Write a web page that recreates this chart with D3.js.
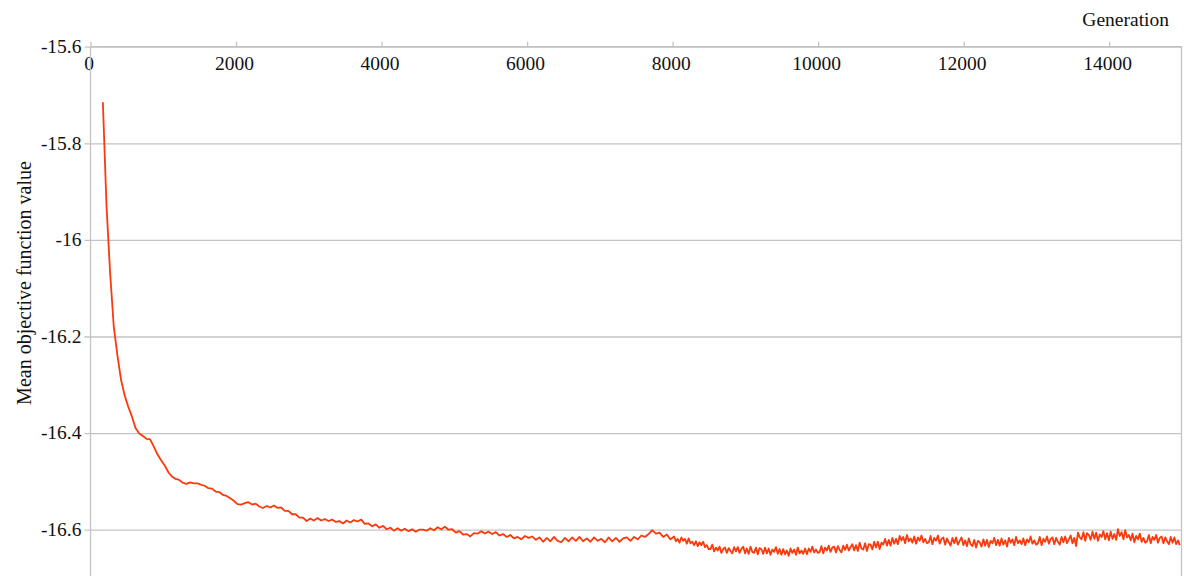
<!DOCTYPE html>
<html>
<head>
<meta charset="utf-8">
<script src="https://cdn.jsdelivr.net/npm/d3@7"></script>
<style>
  body { margin: 0; background: #fff; }
  text { font-family: "Liberation Serif", "Times New Roman", serif; fill: #111; }
</style>
</head>
<body>
<div id="chart"></div>
<script>
const width = 1184;
const height = 576;

// Early run: generations 170..7970, every 50 generations (one row = 500 generations)
const earlyStart = 170;
const earlyStep = 50;
const earlyValues = [
  -15.715, -15.930, -16.069, -16.180, -16.239, -16.290, -16.322, -16.346, -16.366, -16.390,
  -16.401, -16.406, -16.412, -16.413, -16.428, -16.444, -16.456, -16.467, -16.481, -16.490,
  -16.495, -16.497, -16.503, -16.505, -16.502, -16.504, -16.504, -16.507, -16.509, -16.514,
  -16.515, -16.521, -16.522, -16.528, -16.530, -16.535, -16.540, -16.547, -16.548, -16.545,
  -16.543, -16.548, -16.546, -16.552, -16.555, -16.551, -16.554, -16.550, -16.555, -16.554,
  -16.561, -16.561, -16.568, -16.568, -16.575, -16.575, -16.582, -16.577, -16.581, -16.576,
  -16.581, -16.578, -16.582, -16.579, -16.584, -16.582, -16.587, -16.581, -16.585, -16.580,
  -16.583, -16.579, -16.588, -16.587, -16.593, -16.589, -16.596, -16.592, -16.599, -16.596,
  -16.602, -16.597, -16.602, -16.598, -16.603, -16.599, -16.604, -16.600, -16.600, -16.602,
  -16.597, -16.601, -16.595, -16.599, -16.594, -16.600, -16.599, -16.606, -16.603, -16.610,
  -16.609, -16.614, -16.607, -16.608, -16.603, -16.608, -16.604, -16.609, -16.605, -16.612,
  -16.609, -16.615, -16.611, -16.618, -16.615, -16.620, -16.613, -16.617, -16.614, -16.621,
  -16.616, -16.625, -16.617, -16.624, -16.615, -16.623, -16.626, -16.617, -16.624, -16.616,
  -16.623, -16.615, -16.624, -16.618, -16.625, -16.616, -16.623, -16.619, -16.626, -16.616,
  -16.624, -16.617, -16.625, -16.618, -16.616, -16.623, -16.615, -16.620, -16.612, -16.615,
  -16.609, -16.601, -16.608, -16.606, -16.615, -16.610, -16.620
];

// Late, noisy run: generations 8020..14970, every 25 generations (one row = 500 generations)
const lateStart = 8020;
const lateStep = 25;
const lateValues = [
  -16.614, -16.624, -16.619, -16.627, -16.616, -16.623, -16.619, -16.629, -16.618, -16.628,
  -16.625, -16.632, -16.624, -16.634, -16.626, -16.632, -16.625, -16.636, -16.632, -16.640,
  -16.640, -16.631, -16.645, -16.637, -16.643, -16.635, -16.648, -16.640, -16.637, -16.648,
  -16.638, -16.644, -16.649, -16.636, -16.645, -16.636, -16.648, -16.640, -16.635, -16.649,
  -16.639, -16.650, -16.635, -16.646, -16.648, -16.637, -16.651, -16.638, -16.641, -16.650,
  -16.637, -16.649, -16.639, -16.652, -16.641, -16.646, -16.636, -16.650, -16.640, -16.652,
  -16.640, -16.651, -16.643, -16.654, -16.639, -16.648, -16.641, -16.652, -16.637, -16.649,
  -16.643, -16.650, -16.639, -16.651, -16.639, -16.646, -16.635, -16.647, -16.641, -16.648,
  -16.646, -16.634, -16.649, -16.637, -16.643, -16.633, -16.646, -16.637, -16.635, -16.647,
  -16.634, -16.642, -16.647, -16.633, -16.642, -16.631, -16.643, -16.636, -16.630, -16.643,
  -16.632, -16.644, -16.627, -16.639, -16.641, -16.628, -16.644, -16.630, -16.631, -16.641,
  -16.625, -16.637, -16.625, -16.640, -16.627, -16.631, -16.619, -16.633, -16.621, -16.633,
  -16.617, -16.629, -16.619, -16.630, -16.613, -16.622, -16.615, -16.628, -16.611, -16.624,
  -16.618, -16.627, -16.614, -16.629, -16.616, -16.623, -16.612, -16.626, -16.619, -16.628,
  -16.626, -16.613, -16.630, -16.617, -16.623, -16.612, -16.629, -16.619, -16.616, -16.631,
  -16.618, -16.626, -16.633, -16.617, -16.628, -16.616, -16.631, -16.623, -16.616, -16.632,
  -16.622, -16.634, -16.618, -16.630, -16.634, -16.621, -16.637, -16.623, -16.626, -16.635,
  -16.620, -16.633, -16.621, -16.636, -16.623, -16.628, -16.617, -16.632, -16.621, -16.633,
  -16.618, -16.631, -16.622, -16.635, -16.617, -16.627, -16.620, -16.632, -16.615, -16.628,
  -16.622, -16.630, -16.618, -16.632, -16.620, -16.626, -16.614, -16.629, -16.622, -16.631,
  -16.628, -16.615, -16.632, -16.619, -16.625, -16.614, -16.629, -16.619, -16.616, -16.630,
  -16.617, -16.625, -16.631, -16.615, -16.626, -16.614, -16.628, -16.620, -16.612, -16.628,
  -16.617, -16.634, -16.606, -16.616, -16.620, -16.605, -16.623, -16.607, -16.611, -16.621,
  -16.604, -16.619, -16.606, -16.623, -16.610, -16.615, -16.603, -16.620, -16.607, -16.622,
  -16.604, -16.619, -16.609, -16.621, -16.599, -16.613, -16.605, -16.620, -16.601, -16.616,
  -16.611, -16.622, -16.608, -16.626, -16.613, -16.620, -16.608, -16.625, -16.617, -16.627,
  -16.624, -16.611, -16.628, -16.615, -16.621, -16.611, -16.627, -16.617, -16.614, -16.628,
  -16.616, -16.624, -16.630, -16.615, -16.627, -16.616, -16.630, -16.622, -16.632
];

const xTicks = [0, 2000, 4000, 6000, 8000, 10000, 12000, 14000];
const yTicks = [-15.6, -15.8, -16, -16.2, -16.4, -16.6];
const yTickLabels = ["-15.6", "-15.8", "-16", "-16.2", "-16.4", "-16.6"];

const data = earlyValues.map((v, i) => ({ gen: earlyStart + i * earlyStep, value: v }))
    .concat(lateValues.map((v, i) => ({ gen: lateStart + i * lateStep, value: v })));

const svg = d3.select("#chart")
    .append("svg")
    .attr("width", width)
    .attr("height", height);

const x = d3.scaleLinear()
    .domain([0, 15000])
    .range([90.5, 1182]);

const y = d3.scaleLinear()
    .domain([-16.7, -15.6])
    .range([578, 46.7]);

const gridColor = "#c3c3c3";

// Horizontal gridlines with short ticks to the left
svg.append("g")
    .attr("transform", `translate(${x(0)},0)`)
    .call(d3.axisLeft(y)
        .tickValues(yTicks)
        .tickSize(6)
        .tickPadding(3)
        .tickFormat((d, i) => yTickLabels[i]))
    .call(g => g.select(".domain").remove())
    .call(g => g.selectAll(".tick line").attr("stroke", gridColor).attr("stroke-width", 1.3)
        .attr("x2", -6).attr("x1", x(15000) - x(0)))
    .call(g => g.selectAll(".tick text")
        .attr("font-size", "19.5px")
        .attr("fill", "#111")
        .attr("dy", "0.3em"));

// Top axis with generation ticks
svg.append("g")
    .attr("transform", `translate(0,${y(-15.6)})`)
    .call(d3.axisTop(x)
        .tickValues(xTicks)
        .tickSize(5)
        .tickFormat(d3.format("d")))
    .call(g => g.select(".domain").remove())
    .call(g => g.selectAll(".tick line").attr("stroke", gridColor).attr("stroke-width", 1.3))
    .call(g => g.selectAll(".tick text")
        .attr("font-size", "19.5px")
        .attr("fill", "#111")
        .attr("y", 23)
        .attr("dy", 0)
        .attr("dx", -2));

// Frame lines: top, left and right
svg.append("line")
    .attr("x1", x(0)).attr("x2", x(15000))
    .attr("y1", y(-15.6)).attr("y2", y(-15.6))
    .attr("stroke", gridColor).attr("stroke-width", 1.3);
svg.append("line")
    .attr("x1", x(0)).attr("x2", x(0))
    .attr("y1", y(-15.6)).attr("y2", height)
    .attr("stroke", gridColor).attr("stroke-width", 1.3);
svg.append("line")
    .attr("x1", x(15000) - 0.5).attr("x2", x(15000) - 0.5)
    .attr("y1", y(-15.6)).attr("y2", height)
    .attr("stroke", gridColor).attr("stroke-width", 1.3);

// The series
const line = d3.line()
    .x(d => x(d.gen))
    .y(d => y(d.value));

svg.append("path")
    .datum(data)
    .attr("fill", "none")
    .attr("stroke", "#fa3a0c")
    .attr("stroke-width", 1.8)
    .attr("stroke-linejoin", "round")
    .attr("d", line);

// Axis titles
svg.append("text")
    .attr("x", 1169)
    .attr("y", 26)
    .attr("text-anchor", "end")
    .attr("font-size", "19.5px")
    .text("Generation");

svg.append("text")
    .attr("transform", "translate(31,283) rotate(-90)")
    .attr("text-anchor", "middle")
    .attr("font-size", "20px")
    .text("Mean objective function value");
</script>
</body>
</html>
